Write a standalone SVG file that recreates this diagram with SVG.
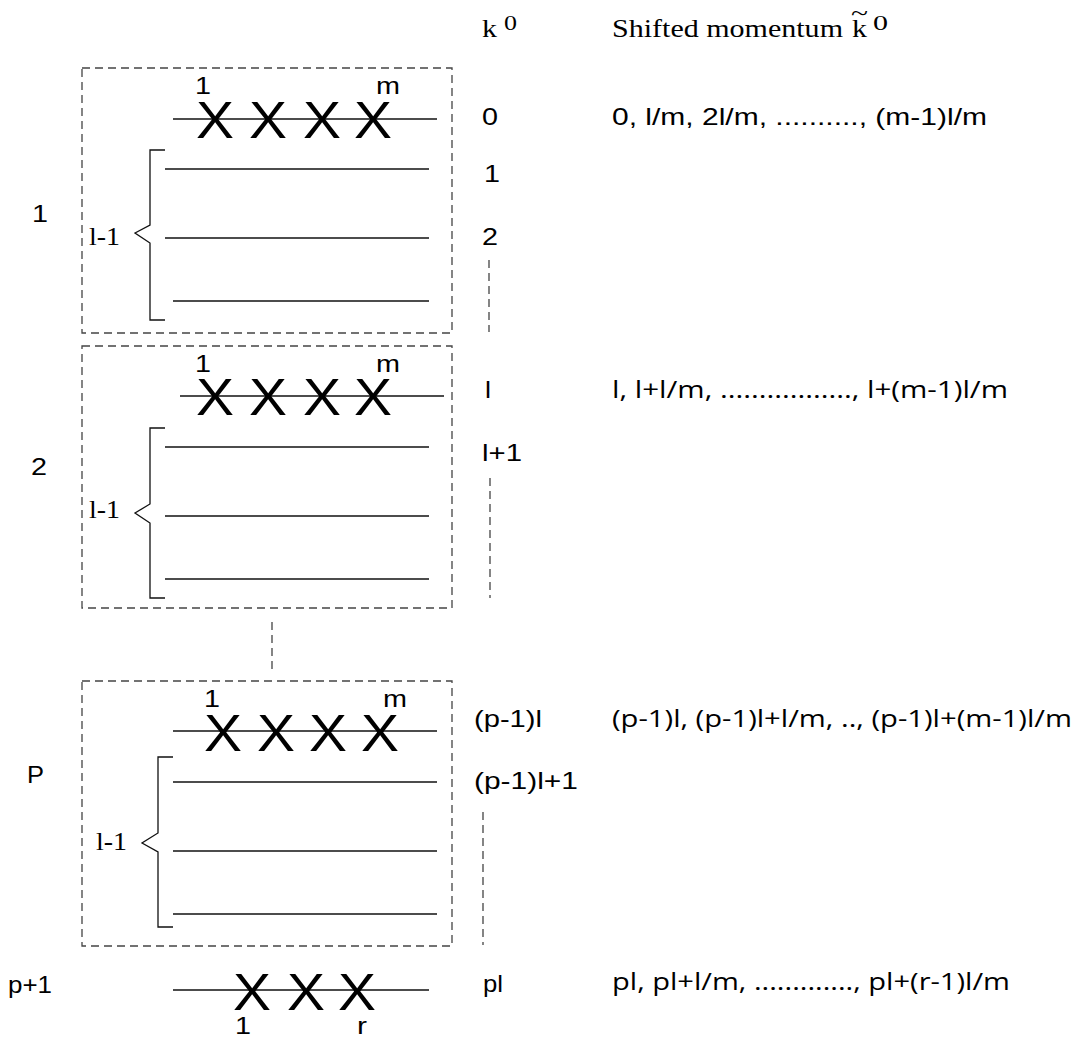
<svg xmlns="http://www.w3.org/2000/svg" width="1089" height="1037" viewBox="0 0 1089 1037">
<style>
.box{fill:none;stroke:#444;stroke-width:1.3;stroke-dasharray:8 5}
.dv{fill:none;stroke:#444;stroke-width:1.3;stroke-dasharray:8 5}
.ln{stroke:#111;stroke-width:1.3;fill:none}
.br{stroke:#111;stroke-width:1.3;fill:none}
.a{font-family:"Liberation Sans",Arial,sans-serif;font-size:24px;fill:#000}
.o{font-family:"Open Sans","Noto Sans",sans-serif;font-size:23px;fill:#000}
.t{font-family:"Liberation Serif","Times New Roman",serif;font-size:25px;fill:#000}
.x{font-family:"Liberation Sans",Arial,sans-serif;font-size:51px;fill:#000}
</style>
<rect width="1089" height="1037" fill="#fff"/>

<g id="header">
<text class="t" x="482" y="37" textLength="15" lengthAdjust="spacingAndGlyphs">k</text>
<text class="t" x="504" y="30" style="font-size:20px" textLength="13" lengthAdjust="spacingAndGlyphs">0</text>
<text class="t" x="612" y="37" textLength="231" lengthAdjust="spacingAndGlyphs">Shifted momentum</text>
<text class="t" x="852" y="37" textLength="15" lengthAdjust="spacingAndGlyphs">k</text>
<text class="t" x="851" y="20" style="font-size:22px" textLength="17" lengthAdjust="spacingAndGlyphs">~</text>
<text class="t" x="873" y="30" style="font-size:20px" textLength="15" lengthAdjust="spacingAndGlyphs">0</text>
</g>

<g id="block1">
<rect class="box" x="82" y="68" width="370" height="265"/>
<line class="ln" x1="173" y1="119" x2="437" y2="119"/>
<line class="ln" x1="165" y1="169" x2="429" y2="169"/>
<line class="ln" x1="165" y1="238" x2="429" y2="238"/>
<line class="ln" x1="173" y1="301" x2="429" y2="301"/>
<polyline class="br" points="165,150 150,150 150,225 135,233 150,243 150,320 165,320"/>
<text class="t" x="89" y="245" textLength="31" lengthAdjust="spacingAndGlyphs">l-1</text>
<text class="a" x="195" y="94" textLength="16" lengthAdjust="spacingAndGlyphs">1</text>
<text class="a" x="376" y="94" textLength="24" lengthAdjust="spacingAndGlyphs">m</text>
<text class="x" x="196" y="138" textLength="38" lengthAdjust="spacingAndGlyphs">X</text>
<text class="x" x="249" y="138" textLength="38" lengthAdjust="spacingAndGlyphs">X</text>
<text class="x" x="303" y="138" textLength="38" lengthAdjust="spacingAndGlyphs">X</text>
<text class="x" x="354" y="138" textLength="38" lengthAdjust="spacingAndGlyphs">X</text>
<text class="a" x="32" y="222" textLength="16" lengthAdjust="spacingAndGlyphs">1</text>
<text class="a" x="482" y="125" textLength="16" lengthAdjust="spacingAndGlyphs">0</text>
<text class="a" x="484" y="182" textLength="16" lengthAdjust="spacingAndGlyphs">1</text>
<text class="a" x="482" y="245" textLength="16" lengthAdjust="spacingAndGlyphs">2</text>
<text class="a" x="612" y="125" textLength="375" lengthAdjust="spacingAndGlyphs">0, l/m, 2l/m, .........., (m-1)l/m</text>
</g>

<g id="block2">
<rect class="box" x="82" y="346" width="370" height="262"/>
<line class="ln" x1="180" y1="396" x2="444" y2="396"/>
<line class="ln" x1="165" y1="447" x2="429" y2="447"/>
<line class="ln" x1="165" y1="516" x2="429" y2="516"/>
<line class="ln" x1="165" y1="579" x2="429" y2="579"/>
<polyline class="br" points="165,428 150,428 150,504 135,513 150,523 150,598 165,598"/>
<text class="t" x="89" y="518" textLength="31" lengthAdjust="spacingAndGlyphs">l-1</text>
<text class="a" x="195" y="372" textLength="16" lengthAdjust="spacingAndGlyphs">1</text>
<text class="a" x="376" y="372" textLength="24" lengthAdjust="spacingAndGlyphs">m</text>
<text class="x" x="196" y="415" textLength="38" lengthAdjust="spacingAndGlyphs">X</text>
<text class="x" x="249" y="415" textLength="38" lengthAdjust="spacingAndGlyphs">X</text>
<text class="x" x="303" y="415" textLength="38" lengthAdjust="spacingAndGlyphs">X</text>
<text class="x" x="354" y="415" textLength="38" lengthAdjust="spacingAndGlyphs">X</text>
<text class="a" x="31" y="475" textLength="16" lengthAdjust="spacingAndGlyphs">2</text>
<text class="a" x="485" y="398" textLength="6" lengthAdjust="spacingAndGlyphs">l</text>
<text class="a" x="482" y="461" textLength="40" lengthAdjust="spacingAndGlyphs">l+1</text>
<text class="o" x="612" y="398" textLength="396" lengthAdjust="spacingAndGlyphs">l, l+l/m, ................., l+(m-1)l/m</text>
</g>

<g id="blockP">
<rect class="box" x="82" y="681" width="370" height="265"/>
<line class="ln" x1="173" y1="731" x2="437" y2="731"/>
<line class="ln" x1="173" y1="782" x2="437" y2="782"/>
<line class="ln" x1="173" y1="851" x2="437" y2="851"/>
<line class="ln" x1="173" y1="914" x2="437" y2="914"/>
<polyline class="br" points="173,757 158,757 158,833 142,843 158,852 158,927 173,927"/>
<text class="t" x="96" y="850" textLength="31" lengthAdjust="spacingAndGlyphs">l-1</text>
<text class="a" x="204" y="707" textLength="16" lengthAdjust="spacingAndGlyphs">1</text>
<text class="a" x="383" y="707" textLength="24" lengthAdjust="spacingAndGlyphs">m</text>
<text class="x" x="204" y="751" textLength="38" lengthAdjust="spacingAndGlyphs">X</text>
<text class="x" x="257" y="751" textLength="38" lengthAdjust="spacingAndGlyphs">X</text>
<text class="x" x="309" y="751" textLength="38" lengthAdjust="spacingAndGlyphs">X</text>
<text class="x" x="361" y="751" textLength="38" lengthAdjust="spacingAndGlyphs">X</text>
<text class="a" x="27" y="783" textLength="17" lengthAdjust="spacingAndGlyphs">P</text>
<text class="a" x="474" y="727" textLength="68" lengthAdjust="spacingAndGlyphs">(p-1)l</text>
<text class="a" x="474" y="789" textLength="104" lengthAdjust="spacingAndGlyphs">(p-1)l+1</text>
<text class="o" x="612" y="727" textLength="460" lengthAdjust="spacingAndGlyphs">(p-1)l, (p-1)l+l/m, .., (p-1)l+(m-1)l/m</text>
</g>

<g id="blockP1">
<line class="ln" x1="173" y1="990" x2="429" y2="990"/>
<text class="x" x="233" y="1010" textLength="38" lengthAdjust="spacingAndGlyphs">X</text>
<text class="x" x="287" y="1010" textLength="38" lengthAdjust="spacingAndGlyphs">X</text>
<text class="x" x="338" y="1010" textLength="38" lengthAdjust="spacingAndGlyphs">X</text>
<text class="a" x="235" y="1034" textLength="16" lengthAdjust="spacingAndGlyphs">1</text>
<text class="a" x="357" y="1034" textLength="10" lengthAdjust="spacingAndGlyphs">r</text>
<text class="a" x="8" y="993" textLength="44" lengthAdjust="spacingAndGlyphs">p+1</text>
<text class="a" x="483" y="992" textLength="20" lengthAdjust="spacingAndGlyphs">pl</text>
<text class="o" x="612" y="990" textLength="398" lengthAdjust="spacingAndGlyphs">pl, pl+l/m, ............., pl+(r-1)l/m</text>
</g>

<g id="connectors">
<line class="dv" x1="489" y1="260" x2="489" y2="332"/>
<line class="dv" x1="490" y1="478" x2="490" y2="598"/>
<line class="dv" x1="272" y1="622" x2="272" y2="670"/>
<line class="dv" x1="483" y1="812" x2="483" y2="945"/>
</g>
</svg>
